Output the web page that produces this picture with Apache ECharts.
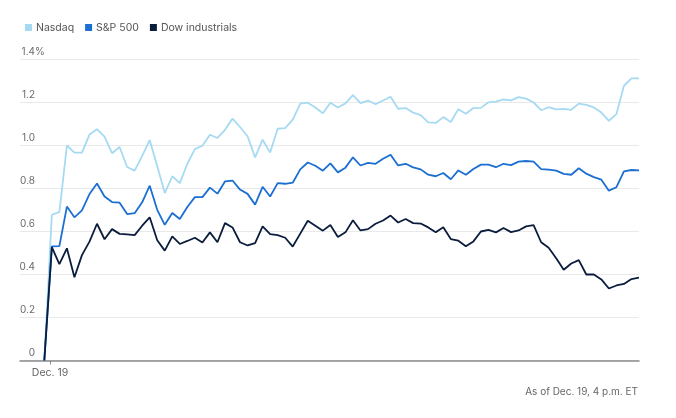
<!DOCTYPE html>
<html>
<head>
<meta charset="utf-8">
<script src="https://cdn.jsdelivr.net/npm/echarts@6/dist/echarts.min.js"></script>
<style>
html,body{margin:0;padding:0;background:#fff;}
#chart{width:676px;height:418px;}
</style>
</head>
<body>
<div id="chart"></div>
<script>
// ---- data (percent change, 5-minute steps through the session) ----
const seriesNames = ['Nasdaq', 'S&P 500', 'Dow industrials'];
const nasdaq = [0, 0.678, 0.69, 1.0, 0.967, 0.967, 1.051, 1.076, 1.041, 0.964,
  0.993, 0.9, 0.883, 0.952, 1.025, 0.905, 0.779, 0.857, 0.825, 0.915,
  0.983, 0.999, 1.05, 1.035, 1.073, 1.125, 1.086, 1.043, 0.945, 1.027,
  0.967, 1.078, 1.081, 1.12, 1.195, 1.199, 1.177, 1.15, 1.199, 1.177,
  1.196, 1.234, 1.197, 1.209, 1.192, 1.209, 1.227, 1.171, 1.174, 1.153,
  1.141, 1.108, 1.105, 1.132, 1.109, 1.169, 1.148, 1.174, 1.175, 1.201,
  1.204, 1.214, 1.21, 1.225, 1.218, 1.2, 1.164, 1.178, 1.168, 1.17,
  1.166, 1.195, 1.189, 1.177, 1.153, 1.115, 1.146, 1.278, 1.312, 1.312];
const sp500 = [0, 0.531, 0.532, 0.716, 0.666, 0.698, 0.774, 0.823, 0.763, 0.737,
  0.734, 0.681, 0.685, 0.736, 0.813, 0.701, 0.631, 0.686, 0.658, 0.714,
  0.76, 0.76, 0.804, 0.776, 0.833, 0.837, 0.795, 0.775, 0.725, 0.808,
  0.763, 0.825, 0.822, 0.827, 0.889, 0.921, 0.906, 0.883, 0.917, 0.875,
  0.897, 0.945, 0.907, 0.919, 0.915, 0.938, 0.957, 0.907, 0.915, 0.898,
  0.889, 0.864, 0.857, 0.872, 0.843, 0.884, 0.864, 0.891, 0.911, 0.911,
  0.899, 0.915, 0.909, 0.925, 0.928, 0.925, 0.89, 0.888, 0.883, 0.868,
  0.864, 0.894, 0.869, 0.853, 0.841, 0.79, 0.806, 0.88, 0.886, 0.884];
const dow = [0, 0.527, 0.448, 0.522, 0.387, 0.49, 0.553, 0.636, 0.564, 0.611,
  0.589, 0.587, 0.583, 0.627, 0.666, 0.559, 0.511, 0.577, 0.542, 0.556,
  0.571, 0.549, 0.596, 0.55, 0.639, 0.619, 0.55, 0.535, 0.546, 0.624,
  0.588, 0.583, 0.571, 0.53, 0.59, 0.65, 0.627, 0.604, 0.63, 0.574,
  0.596, 0.652, 0.605, 0.611, 0.636, 0.651, 0.674, 0.642, 0.658, 0.639,
  0.637, 0.619, 0.596, 0.62, 0.565, 0.557, 0.531, 0.554, 0.6, 0.608,
  0.596, 0.616, 0.597, 0.605, 0.624, 0.63, 0.55, 0.524, 0.476, 0.422,
  0.451, 0.467, 0.4, 0.4, 0.377, 0.335, 0.349, 0.356, 0.379, 0.385];
const yTicks = [0, 0.2, 0.4, 0.6, 0.8, 1.0, 1.2, 1.4];
const xTickPos = [0.76];
const xTickLabels = ['Dec. 19'];
const noteText = 'As of Dec. 19, 4 p.m. ET';
const colors = ['#a6daf2', '#1c6fd2', '#0b1d3c'];

const FONT = 'Inter, "Noto Sans", sans-serif';
const toPairs = arr => arr.map((v, i) => [i, v]);
const fmtY = v => (Math.abs(v) < 1e-9 ? '0' : v.toFixed(1));

const chart = echarts.init(document.getElementById('chart'), null, {renderer: 'canvas'});
chart.setOption({
  animation: false,
  backgroundColor: '#ffffff',
  color: colors,
  textStyle: {fontFamily: FONT},
  title: {
    text: noteText,
    right: 33,
    top: 382,
    textStyle: {fontFamily: FONT, fontSize: 10, fontWeight: 'normal', color: '#666'}
  },
  legend: {
    left: 20,
    top: 17,
    itemWidth: 7,
    itemHeight: 7,
    itemGap: 11,
    icon: 'rect',
    textStyle: {fontFamily: FONT, fontSize: 10.5, color: '#555', padding: [0, 0, 0, -1]},
    data: seriesNames
  },
  grid: {left: 20, right: 37, top: 59.5, bottom: 57.5, containLabel: false},
  xAxis: {
    type: 'value',
    min: -3.23,
    max: 79,
    splitLine: {show: false},
    axisLine: {show: true, onZero: false, lineStyle: {color: '#8a8a8a', width: 1.5}},
    axisTick: {show: true, length: 4, customValues: xTickPos, lineStyle: {color: '#8a8a8a', width: 1}},
    axisLabel: {
      show: true,
      customValues: xTickPos,
      margin: 7,
      fontFamily: FONT,
      fontSize: 10.5,
      color: '#666',
      formatter: v => {
        const k = xTickPos.findIndex(p => Math.abs(p - v) < 1e-6);
        return k >= 0 ? xTickLabels[k] : '';
      }
    }
  },
  yAxis: [{
    type: 'value',
    min: yTicks[0],
    max: yTicks[yTicks.length - 1],
    interval: 0.2,
    axisLine: {show: false},
    axisTick: {show: false},
    splitLine: {show: true, lineStyle: {color: '#e9e9e9', width: 1}},
    axisLabel: {
      inside: true,
      margin: 15,
      align: 'right',
      verticalAlign: 'bottom',
      padding: [0, 0, 3, 0],
      fontFamily: FONT,
      fontSize: 10,
      color: '#6b6b6b',
      formatter: fmtY
    }
  }, {
    type: 'value',
    position: 'left',
    min: yTicks[0],
    max: yTicks[yTicks.length - 1],
    axisLine: {show: false},
    axisTick: {show: false},
    splitLine: {show: false},
    axisLabel: {
      inside: true,
      margin: 15,
      align: 'left',
      verticalAlign: 'bottom',
      padding: [0, 0, 3, 0],
      customValues: [yTicks[yTicks.length - 1]],
      fontFamily: FONT,
      fontSize: 10,
      color: '#6b6b6b',
      formatter: () => '%'
    }
  }],
  series: [
    {name: seriesNames[0], type: 'line', data: toPairs(nasdaq), showSymbol: false, lineStyle: {width: 1.8, color: colors[0]}, itemStyle: {color: colors[0]}},
    {name: seriesNames[1], type: 'line', data: toPairs(sp500), showSymbol: false, lineStyle: {width: 1.8, color: colors[1]}, itemStyle: {color: colors[1]}},
    {name: seriesNames[2], type: 'line', data: toPairs(dow), showSymbol: false, lineStyle: {width: 1.8, color: colors[2]}, itemStyle: {color: colors[2]}}
  ]
});
</script>
</body>
</html>
